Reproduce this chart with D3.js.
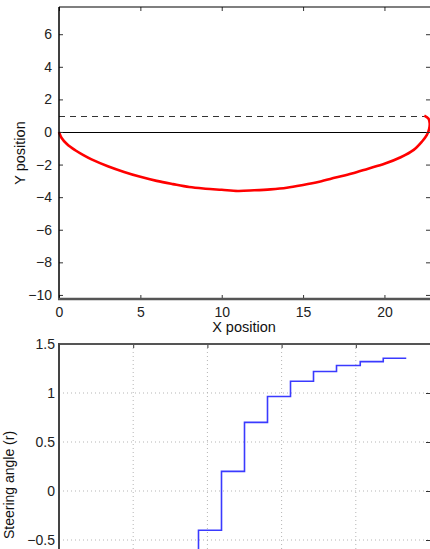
<!DOCTYPE html>
<html><head><meta charset="utf-8">
<script src="https://cdn.jsdelivr.net/npm/d3@7"></script>
<style>body{margin:0;background:#fff}svg{display:block;font-family:"Liberation Sans",Arial,sans-serif}</style>
</head><body>
<script>
// Top plot: trajectory
const pathX = [0,0.15,0.5,1,1.5,2,3,4,5,6,7,8,9,10,11,12,13,14,15,16,17,18,19,20,21,21.8,22.3,22.6,22.75,22.78,22.7,22.45];
const pathY = [0,-0.35,-0.75,-1.12,-1.42,-1.68,-2.1,-2.45,-2.75,-3.0,-3.2,-3.38,-3.48,-3.55,-3.62,-3.58,-3.52,-3.42,-3.25,-3.05,-2.8,-2.55,-2.25,-1.95,-1.55,-1.1,-0.6,-0.2,0.2,0.55,0.82,1.0];
const topXTicks = [0,5,10,15,20];
const topYTicks = [-10,-8,-6,-4,-2,0,2,4,6];
const targetY = 1;
const targetXEnd = 22.5;
// Bottom plot: steering angle
const stepT = [7.85,9.4,10.95,12.5,14.05,15.6,17.15,18.7,20.3,21.85,23.4];
const stepV = [-1.0,-0.4,0.2,0.7,0.965,1.12,1.22,1.28,1.32,1.355,1.355];
const botXTicks = [0,5,10,15,20,25];
const botYTicks = [-0.5,0,0.5,1,1.5];
const botYLabels = ["-0.5","0","0.5","1","1.5"];

const W=430,H=549;
const svg=d3.select("body").append("svg").attr("width",W).attr("height",H);

// ---------- top plot ----------
const x1=d3.scaleLinear().domain([0,22.8]).range([59,430]);
const y1=d3.scaleLinear().domain([-10.25,7.67]).range([299,7]);
const g1=svg.append("g");
// zero line
g1.append("line").attr("x1",x1(0)).attr("x2",x1(22.8)).attr("y1",Math.round(y1(0))+0.5).attr("y2",Math.round(y1(0))+0.5).attr("stroke","#000").attr("stroke-width",1.1);
// dashed target
g1.append("line").attr("x1",x1(0)).attr("x2",x1(targetXEnd)).attr("y1",Math.round(y1(targetY))+0.5).attr("y2",Math.round(y1(targetY))+0.5).attr("stroke","#333").attr("stroke-width",1.1).attr("stroke-dasharray","6,5");
// red path
g1.append("path").datum(pathX.map((d,i)=>[d,pathY[i]]))
  .attr("d",d3.line().x(d=>x1(d[0])).y(d=>y1(d[1])).curve(d3.curveCatmullRom))
  .attr("fill","none").attr("stroke","#f00").attr("stroke-width",2.6).attr("stroke-linejoin","round");
// axes
const tk=4;
const axL1=d3.axisLeft(y1).tickValues(topYTicks).tickSizeInner(-tk).tickSizeOuter(0).tickPadding(7).tickFormat(d=>d<0?"\u2212"+(-d):d);
g1.append("g").attr("transform",`translate(59,0)`).call(axL1);
const axB1=d3.axisBottom(x1).tickValues(topXTicks).tickSizeInner(-tk).tickSizeOuter(0).tickPadding(8);
g1.append("g").attr("transform",`translate(0,299)`).call(axB1);
const axT1=d3.axisTop(x1).tickValues(topXTicks).tickSizeInner(-tk).tickSizeOuter(0).tickFormat("");
g1.append("g").attr("transform",`translate(0,7)`).call(axT1);
const axR1=d3.axisRight(y1).tickValues(topYTicks).tickSizeInner(-tk).tickSizeOuter(0).tickFormat("");
g1.append("g").attr("transform",`translate(430,0)`).call(axR1);
g1.selectAll(".domain").remove();
g1.selectAll(".tick line").attr("stroke","#333");
g1.selectAll(".tick text").attr("font-size",14).attr("fill","#222").attr("font-family","Liberation Sans, Arial, sans-serif");
// frame
g1.append("line").attr("x1",59).attr("x2",430).attr("y1",7).attr("y2",7).attr("stroke","#000").attr("stroke-width",1.2);
g1.append("line").attr("x1",59).attr("x2",59).attr("y1",7).attr("y2",299).attr("stroke","#000").attr("stroke-width",1.5);
g1.append("line").attr("x1",58).attr("x2",430).attr("y1",299).attr("y2",299).attr("stroke","#555").attr("stroke-width",2.4);
g1.append("text").attr("x",244).attr("y",332).attr("text-anchor","middle").attr("font-size",14.5).attr("fill","#111").text("X position");
g1.append("text").attr("transform","translate(25,153) rotate(-90)").attr("text-anchor","middle").attr("font-size",14.5).attr("fill","#111").text("Y position");

// ---------- bottom plot ----------
const x2=d3.scaleLinear().domain([0,25]).range([59,430]);
const y2=d3.scaleLinear().domain([-1.5,1.5]).range([638,344]);
const g2=svg.append("g");
// grid
g2.selectAll(".vg").data(botXTicks.filter(d=>d>0&&d<25)).join("line")
  .attr("x1",d=>x2(d)).attr("x2",d=>x2(d)).attr("y1",344).attr("y2",H)
  .attr("stroke","#b5b5b5").attr("stroke-width",1).attr("stroke-dasharray","1,3");
g2.selectAll(".hg").data(botYTicks.filter(d=>d<1.5)).join("line")
  .attr("x1",59).attr("x2",430).attr("y1",d=>y2(d)).attr("y2",d=>y2(d))
  .attr("stroke","#b5b5b5").attr("stroke-width",1).attr("stroke-dasharray","1,3");
// step line
g2.append("path").datum(stepT.map((d,i)=>[d,stepV[i]]))
  .attr("d",d3.line().x(d=>x2(d[0])).y(d=>y2(d[1])).curve(d3.curveStepAfter))
  .attr("fill","none").attr("stroke","#3a3aff").attr("stroke-width",1.6);
const axL2=d3.axisLeft(y2).tickValues(botYTicks).tickSizeInner(0).tickSizeOuter(0).tickPadding(4).tickFormat((d,i)=>botYLabels[i].replace("-","\u2212"));
g2.append("g").attr("transform","translate(59,0)").call(axL2);
const axT2=d3.axisTop(x2).tickValues(botXTicks).tickSizeInner(-tk).tickSizeOuter(0).tickFormat("");
g2.append("g").attr("transform","translate(0,344)").call(axT2);
const axR2=d3.axisRight(y2).tickValues(botYTicks).tickSizeInner(-tk).tickSizeOuter(0).tickFormat("");
g2.append("g").attr("transform","translate(430,0)").call(axR2);
g2.selectAll(".domain").remove();
g2.selectAll(".tick line").attr("stroke","#333");
g2.selectAll(".tick text").attr("font-size",14).attr("fill","#222").attr("font-family","Liberation Sans, Arial, sans-serif");
g2.append("line").attr("x1",58).attr("x2",430).attr("y1",344).attr("y2",344).attr("stroke","#555").attr("stroke-width",2);
g2.append("line").attr("x1",59).attr("x2",59).attr("y1",343).attr("y2",H).attr("stroke","#444").attr("stroke-width",2);
g2.append("text").attr("transform","translate(14,485) rotate(-90)").attr("text-anchor","middle").attr("font-size",14).attr("fill","#111").text("Steering angle (r)");
</script>
</body></html>
